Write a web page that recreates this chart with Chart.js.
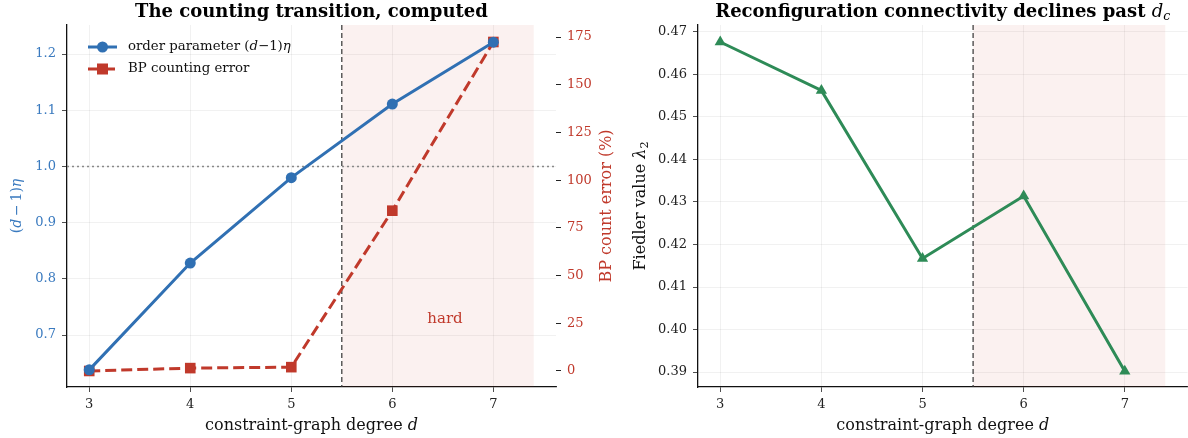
<!DOCTYPE html>
<html>
<head>
<meta charset="utf-8">
<title>Counting transition</title>
<script src="https://cdn.jsdelivr.net/npm/chart.js@4.4.1/dist/chart.umd.min.js"></script>
<style>
  body { margin: 0; background: #fff; width: 1188px; height: 438px; position: relative; overflow: hidden; }
  canvas { position: absolute; top: 0; }
</style>
</head>
<body>
<canvas id="left" width="620" height="438" style="left:0"></canvas>
<canvas id="right" width="574" height="438" style="left:620px"></canvas>
<script>
// data
const degrees = [3, 4, 5, 6, 7];
const orderParam = [0.638, 0.828, 0.980, 1.111, 1.221];
const bpError = [0.0, 1.5, 2.0, 84.0, 172.4];
const fiedler = [0.4676, 0.4562, 0.4167, 0.4314, 0.3902];

const orderTicks = [0.7, 0.8, 0.9, 1.0, 1.1, 1.2];
const errorTicks = [0, 25, 50, 75, 100, 125, 150, 175];
const fiedlerTicks = [0.39, 0.40, 0.41, 0.42, 0.43, 0.44, 0.45, 0.46, 0.47];

const dCrit = 5.5;
const hardEnd = 7.4;
const threshold = 1.0;

const BLUE = '#3070b3';
const RED = '#c0392b';
const GREEN = '#2e8b57';
const SERIF = '"DejaVu Serif", serif';

const pts = ys => degrees.map((d, i) => ({ x: d, y: ys[i] }));
const fixTicks = arr => s => { s.ticks = arr.map(v => ({ value: v })); };

// draw a run of text pieces, some italic / subscript
function rich(ctx, segs, x, y, size, color, align) {
  const font = s => (s.i ? 'italic ' : '') + (s.b ? 'bold ' : '') + (s.sub ? size * 0.7 : size) + 'px ' + SERIF;
  let w = 0;
  segs.forEach(s => { ctx.font = font(s); w += ctx.measureText(s.t).width; });
  let cx = align === 'center' ? x - w / 2 : x;
  ctx.fillStyle = color;
  ctx.textBaseline = 'middle';
  ctx.textAlign = 'left';
  segs.forEach(s => {
    ctx.font = font(s);
    ctx.fillText(s.t, cx, s.sub ? y + size * 0.25 : y);
    cx += ctx.measureText(s.t).width;
  });
}

function vtext(ctx, segs, x, y, size, color) {
  ctx.save();
  ctx.translate(x, y);
  ctx.rotate(-Math.PI / 2);
  rich(ctx, segs, 0, 0, size, color, 'center');
  ctx.restore();
}

const decor = {
  id: 'decor',
  beforeDatasetsDraw(chart, args, o) {
    const { ctx, chartArea: a, scales } = chart;
    const x = scales.x;
    ctx.save();
    ctx.fillStyle = 'rgba(192,57,43,0.07)';
    ctx.fillRect(x.getPixelForValue(dCrit), a.top, x.getPixelForValue(hardEnd) - x.getPixelForValue(dCrit), a.bottom - a.top);
    if (o.hline) {
      const yy = scales.y.getPixelForValue(threshold);
      ctx.strokeStyle = '#888';
      ctx.lineWidth = 1.5;
      ctx.setLineDash([2, 3]);
      ctx.beginPath(); ctx.moveTo(a.left, yy); ctx.lineTo(a.right, yy); ctx.stroke();
    }
    const vx = x.getPixelForValue(dCrit);
    ctx.strokeStyle = '#333';
    ctx.lineWidth = 1.2;
    ctx.setLineDash([5, 3]);
    ctx.beginPath(); ctx.moveTo(vx, a.top); ctx.lineTo(vx, a.bottom); ctx.stroke();
    ctx.restore();
  },
  afterDraw(chart, args, o) {
    const { ctx, chartArea: a } = chart;
    ctx.save();
    const mid = (a.left + a.right) / 2;
    rich(ctx, o.title, mid, 12, 18, '#000', 'center');
    rich(ctx, [{ t: 'constraint-graph degree ' }, { t: 'd', i: true }], mid, 426, 16, '#111', 'center');
    o.yTitles.forEach(t => vtext(ctx, t.segs, t.x, (a.top + a.bottom) / 2, t.size || 16, t.color));
    if (o.hard) {
      ctx.font = '15px ' + SERIF;
      ctx.fillStyle = RED;
      ctx.textAlign = 'center';
      ctx.textBaseline = 'middle';
      ctx.fillText('hard', 445, 319);
    }
    if (o.legend) {
      o.legend.forEach((e, k) => {
        const ly = 47 + k * 22;
        ctx.strokeStyle = e.color;
        ctx.lineWidth = 3;
        ctx.setLineDash(e.dash || []);
        ctx.beginPath(); ctx.moveTo(88, ly); ctx.lineTo(117, ly); ctx.stroke();
        ctx.setLineDash([]);
        ctx.fillStyle = e.color;
        if (e.shape === 'circle') {
          ctx.beginPath(); ctx.arc(102.5, ly, 5.5, 0, Math.PI * 2); ctx.fill();
        } else {
          ctx.fillRect(97, ly - 5.5, 11, 11);
        }
        rich(ctx, e.segs, 128, ly, 13.3, '#111', 'left');
      });
    }
    ctx.restore();
  }
};

const tickFont = { family: SERIF, size: 13 };
const gridCfg = { color: 'rgba(0,0,0,0.07)', lineWidth: 0.8, tickColor: '#222', tickLength: 5 };

function xScale() {
  return {
    type: 'linear', min: 2.78, max: 7.62,
    afterBuildTicks: fixTicks(degrees),
    afterFit: s => { s.height = 51; },
    ticks: { font: tickFont, color: '#222', padding: 5, callback: v => String(v) },
    grid: gridCfg,
    border: { color: '#111', width: 1.3 }
  };
}

new Chart(document.getElementById('left'), {
  type: 'line',
  data: {
    datasets: [
      {
        data: pts(orderParam), yAxisID: 'y',
        borderColor: BLUE, backgroundColor: BLUE, borderWidth: 3,
        pointStyle: 'circle', pointRadius: 5.5, pointBorderWidth: 0, tension: 0
      },
      {
        data: pts(bpError), yAxisID: 'y1',
        borderColor: RED, backgroundColor: RED, borderWidth: 3, borderDash: [11, 5],
        pointStyle: 'rect', pointRadius: 7.5, pointBorderWidth: 0, tension: 0
      }
    ]
  },
  options: {
    responsive: false, animation: false,
    layout: { padding: { top: 25, left: 0, right: 0, bottom: 0 } },
    plugins: {
      legend: { display: false }, title: { display: false }, tooltip: { enabled: false },
      decor: {
        hline: true, hard: true,
        title: [{ t: 'The counting transition, computed', b: true }],
        yTitles: [
          { x: 17, size: 14, color: '#3a7abf', segs: [{ t: '(' }, { t: 'd', i: true }, { t: '\u2009\u2212\u20091)' }, { t: '\u03b7', i: true }] },
          { x: 607, color: RED, segs: [{ t: 'BP count error (%)' }] }
        ],
        legend: [
          { color: BLUE, shape: 'circle', segs: [{ t: 'order parameter (' }, { t: 'd', i: true }, { t: '\u22121)' }, { t: '\u03b7', i: true }] },
          { color: RED, shape: 'rect', dash: [11, 5], segs: [{ t: 'BP counting error' }] }
        ]
      }
    },
    scales: {
      x: xScale(),
      y: {
        type: 'linear', position: 'left', min: 0.6075, max: 1.2516,
        afterBuildTicks: fixTicks(orderTicks),
        afterFit: s => { s.width = 67; },
        ticks: { font: tickFont, color: '#3a7abf', padding: 6, callback: v => v.toFixed(1) },
        grid: gridCfg,
        border: { color: '#111', width: 1.3 }
      },
      y1: {
        type: 'linear', position: 'right', min: -8.4, max: 181.3,
        afterBuildTicks: fixTicks(errorTicks),
        afterFit: s => { s.width = 64; },
        ticks: { font: tickFont, color: RED, padding: 6, callback: v => String(v) },
        grid: { drawOnChartArea: false, tickColor: '#222', tickLength: 5 },
        border: { display: false }
      }
    }
  },
  plugins: [decor]
});

new Chart(document.getElementById('right'), {
  type: 'line',
  data: {
    datasets: [{
      data: pts(fiedler),
      borderColor: GREEN, backgroundColor: GREEN, borderWidth: 3,
      pointStyle: 'triangle', pointRadius: 6.5, pointBorderWidth: 0, tension: 0
    }]
  },
  options: {
    responsive: false, animation: false,
    layout: { padding: { top: 25, left: 0, right: 1, bottom: 0 } },
    plugins: {
      legend: { display: false }, title: { display: false }, tooltip: { enabled: false },
      decor: {
        title: [{ t: 'Reconfiguration connectivity declines past ', b: true }, { t: 'd', i: true }, { t: 'c', i: true, sub: true }],
        yTitles: [
          { x: 21, color: '#111', segs: [{ t: 'Fiedler value ' }, { t: '\u03bb', i: true }, { t: '2', sub: true }] }
        ]
      }
    },
    scales: {
      x: xScale(),
      y: {
        type: 'linear', position: 'left', min: 0.3865, max: 0.4716,
        afterBuildTicks: fixTicks(fiedlerTicks),
        afterFit: s => { s.width = 78; },
        ticks: { font: tickFont, color: '#222', padding: 6, callback: v => v.toFixed(2) },
        grid: gridCfg,
        border: { color: '#111', width: 1.3 }
      }
    }
  },
  plugins: [decor]
});
</script>
</body>
</html>
